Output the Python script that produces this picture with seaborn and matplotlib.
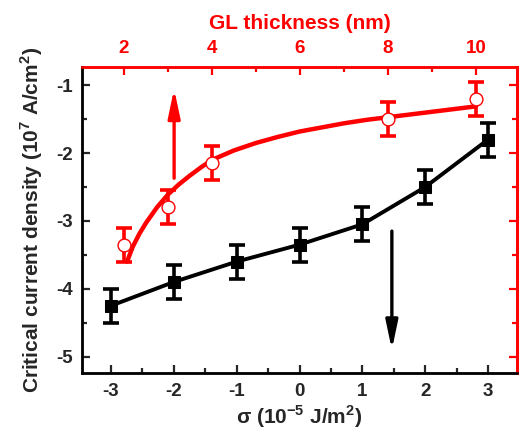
import matplotlib
matplotlib.use("Agg")
import matplotlib.pyplot as plt
import seaborn as sns
import pandas as pd
from matplotlib.ticker import MultipleLocator

# Data
sigma = [-3, -2, -1, 0, 1, 2, 3]
jc_sigma = [-4.25, -3.9, -3.6, -3.35, -3.05, -2.5, -1.8]
jc_sigma_err = [0.25, 0.25, 0.25, 0.25, 0.25, 0.25, 0.25]

thickness = [2, 3, 4, 8, 10]
jc_thick = [-3.35, -2.8, -2.15, -1.5, -1.2]
jc_thick_err = [0.25, 0.25, 0.25, 0.25, 0.25]

# fitted curve, read point by point
fit_thickness = [2.07, 2.2, 2.35, 2.5, 2.75, 3.0, 3.25, 3.5, 3.75, 4.0, 4.5, 5.0,
                 5.5, 6.0, 6.5, 7.0, 7.5, 8.0, 8.5, 9.0, 9.5, 10.0]
fit_jc = [-3.6, -3.38, -3.19, -3.03, -2.8, -2.61, -2.46, -2.33, -2.21, -2.1, -1.96, -1.85,
          -1.76, -1.68, -1.62, -1.56, -1.51, -1.47, -1.43, -1.39, -1.35, -1.31]

sns.set_style("ticks")
plt.rcParams["font.family"] = ["Liberation Sans", "DejaVu Sans"]
plt.rcParams["font.weight"] = "bold"
plt.rcParams["axes.unicode_minus"] = False
plt.rcParams["mathtext.fontset"] = "custom"
plt.rcParams["mathtext.rm"] = "Liberation Sans"
plt.rcParams["mathtext.bf"] = "Liberation Sans:bold"

df_sigma = pd.DataFrame({"sigma": sigma, "jc": jc_sigma})
df_fit = pd.DataFrame({"t": fit_thickness, "jc": fit_jc})

fig = plt.figure(figsize=(5.2, 4.47), dpi=100)
ax = fig.add_axes([0.158, 0.166, 0.836, 0.684])

# black series vs sigma
ax.errorbar(sigma, jc_sigma, yerr=jc_sigma_err, fmt="none", ecolor="black",
            elinewidth=2.6, capsize=5.5, capthick=2.6, zorder=3)
sns.lineplot(data=df_sigma, x="sigma", y="jc", ax=ax, color="black", lw=2.8,
             marker="s", markersize=8, markeredgecolor="black", zorder=4)

ax.set_xlim(-3.46, 3.46)
ax.set_ylim(-5.24, -0.73)
ax.xaxis.set_major_locator(MultipleLocator(1))
ax.xaxis.set_minor_locator(MultipleLocator(0.5))
ax.yaxis.set_major_locator(MultipleLocator(1))
ax.yaxis.set_minor_locator(MultipleLocator(0.5))
ax.tick_params(axis="both", which="major", direction="in", length=6, width=1.6,
               labelsize=13.5, pad=7)
ax.tick_params(axis="both", which="minor", direction="in", length=3.5, width=1.6)
ax.tick_params(top=False, right=False)
for s in ["left", "bottom"]:
    ax.spines[s].set_linewidth(1.8)
ax.set_xlabel(r"σ (10$^{\mathbf{-5}}$ J/m$^{\mathbf{2}}$)", fontsize=15, fontweight="bold", labelpad=3)
ax.set_ylabel(r"Critical current density (10$^{\mathbf{7}}$ A/cm$^{\mathbf{2}}$)",
              fontsize=15, fontweight="bold", labelpad=8)

# black arrow pointing down
arrow_style = "-|>,head_length=0.95,head_width=0.2"
ax.annotate("", xy=(1.47, -4.9), xytext=(1.47, -3.15),
            arrowprops=dict(arrowstyle=arrow_style, color="black", lw=2.4,
                            mutation_scale=18, shrinkA=0, shrinkB=0))

# right red ticks
rax = ax.secondary_yaxis("right")
rax.yaxis.set_major_locator(MultipleLocator(1))
rax.yaxis.set_minor_locator(MultipleLocator(0.5))
rax.tick_params(axis="y", which="major", direction="in", length=6, width=1.6,
                colors="red", labelright=False)
rax.tick_params(axis="y", which="minor", direction="in", length=3.5, width=1.6,
                colors="red")
rax.spines["right"].set_color("red")
rax.spines["right"].set_linewidth(1.8)

# red series vs GL thickness on top axis
ax2 = ax.twiny()
ax2.set_xlim(1.05, 10.93)
ax2.errorbar(thickness, jc_thick, yerr=jc_thick_err, fmt="none", ecolor="red",
             elinewidth=2.6, capsize=5.5, capthick=2.6, zorder=3)
sns.lineplot(data=df_fit, x="t", y="jc", ax=ax2, color="red", lw=3.2, zorder=4)
sns.scatterplot(x=thickness, y=jc_thick, ax=ax2, marker="o", s=85,
                facecolor="white", edgecolor="red", linewidth=1, zorder=5)
ax2.annotate("", xy=(3.14, -1.05), xytext=(3.14, -2.37),
             arrowprops=dict(arrowstyle=arrow_style, color="red", lw=2.4,
                             mutation_scale=18, shrinkA=0, shrinkB=0))
ax2.xaxis.set_major_locator(MultipleLocator(2))
ax2.xaxis.set_minor_locator(MultipleLocator(1))
ax2.tick_params(axis="x", which="major", direction="in", length=6, width=1.6,
                colors="red", labelsize=13.5, pad=7)
ax2.tick_params(axis="x", which="minor", direction="in", length=3.5, width=1.6,
                colors="red")
ax2.set_xlabel("GL thickness (nm)", color="red", fontsize=15, fontweight="bold", labelpad=8)
ax2.set_ylabel("")
for s in ["top", "right"]:
    ax2.spines[s].set_color("red")
    ax2.spines[s].set_linewidth(1.8)
    ax.spines[s].set_color("red")
    ax.spines[s].set_linewidth(1.8)
for s in ["left", "bottom"]:
    ax2.spines[s].set_color("black")
    ax2.spines[s].set_linewidth(1.8)

fig.savefig("out.png", dpi=100)
